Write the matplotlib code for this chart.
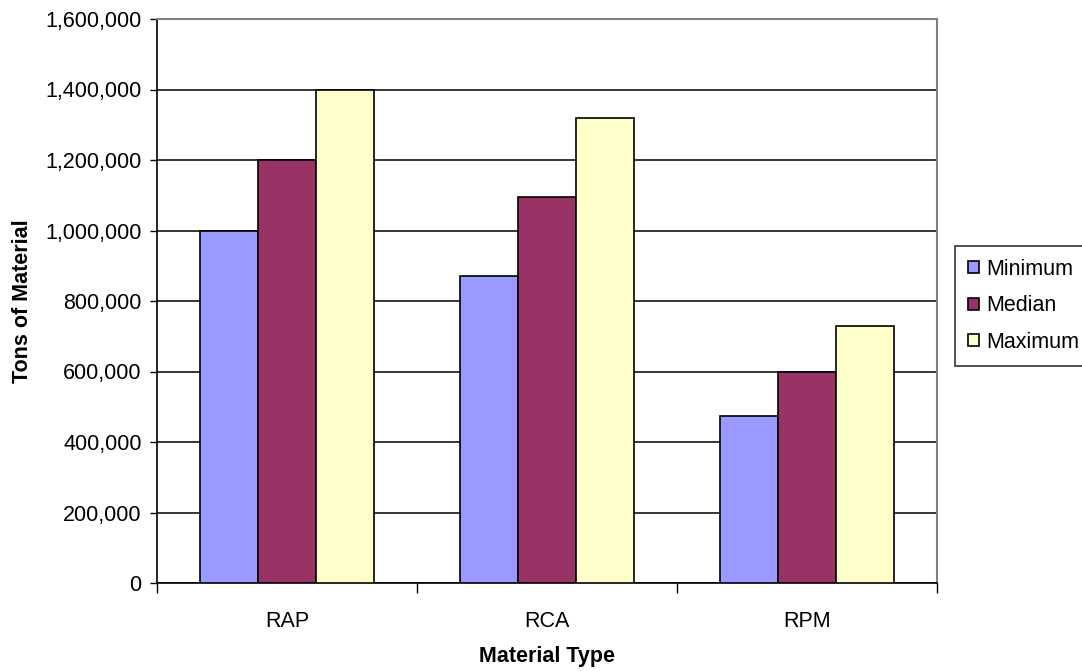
import matplotlib
matplotlib.use("Agg")
import matplotlib.pyplot as plt
import numpy as np
from matplotlib.ticker import FuncFormatter, FixedLocator

plt.rcParams['font.family'] = ['Liberation Sans', 'DejaVu Sans']

categories = ["RAP", "RCA", "RPM"]
series_names = ["Minimum", "Median", "Maximum"]
minimum = [1000000, 870000, 475000]
median = [1200000, 1095000, 600000]
maximum = [1400000, 1320000, 728000]
colors = ["#9999FF", "#993366", "#FFFFCC"]
y_ticks = [0, 200000, 400000, 600000, 800000, 1000000, 1200000, 1400000, 1600000]

W, H = 1082, 671
fig = plt.figure(figsize=(W / 100, H / 100), dpi=100)
L, R, T, B = 157, 937, 19, 583
ax = fig.add_axes([L / W, 1 - B / H, (R - L) / W, (B - T) / H])

x = np.arange(len(categories))
bw = 1 / 4.5
for i, (vals, name, c) in enumerate(zip([minimum, median, maximum], series_names, colors)):
    ax.bar(x + (i - 1) * bw, vals, width=bw, color=c, edgecolor="black",
           linewidth=1.2, label=name, zorder=3)

ax.set_xlim(-0.5, len(categories) - 0.5)
ax.set_ylim(0, 1600000)
ax.yaxis.set_major_locator(FixedLocator(y_ticks))
ax.yaxis.set_major_formatter(FuncFormatter(lambda v, p: f"{int(v):,}"))
ax.grid(axis="y", color="black", linewidth=1.1, zorder=0)

ax.set_xticks(x)
ax.set_xticklabels(categories, fontsize=15.5)
ax.tick_params(axis="x", length=0, pad=20)
ax.set_xticks(np.arange(len(categories) + 1) - 0.5, minor=True)
ax.tick_params(axis="x", which="minor", length=7, width=1, color="black")
ax.tick_params(axis="y", labelsize=15.5, length=5, width=1, pad=6)

for s in ["top", "right"]:
    ax.spines[s].set_color("#808080")
    ax.spines[s].set_linewidth(1.5)
for s in ["left", "bottom"]:
    ax.spines[s].set_color("black")
    ax.spines[s].set_linewidth(1.2)

ax.set_xlabel("Material Type", fontsize=15.5, fontweight="bold", labelpad=10)
ax.set_ylabel("Tons of Material", fontsize=15.5, fontweight="bold", labelpad=9)

leg = fig.legend(loc="upper left", bbox_to_anchor=(955 / W, 1 - 246 / H),
                 fontsize=15.5, frameon=True, fancybox=False, edgecolor="black",
                 handlelength=0.5, handleheight=0.5, handletextpad=0.35,
                 labelspacing=0.72, borderpad=0.6, borderaxespad=0)
leg.get_frame().set_linewidth(1.2)

fig.savefig("out.png", dpi=100)
